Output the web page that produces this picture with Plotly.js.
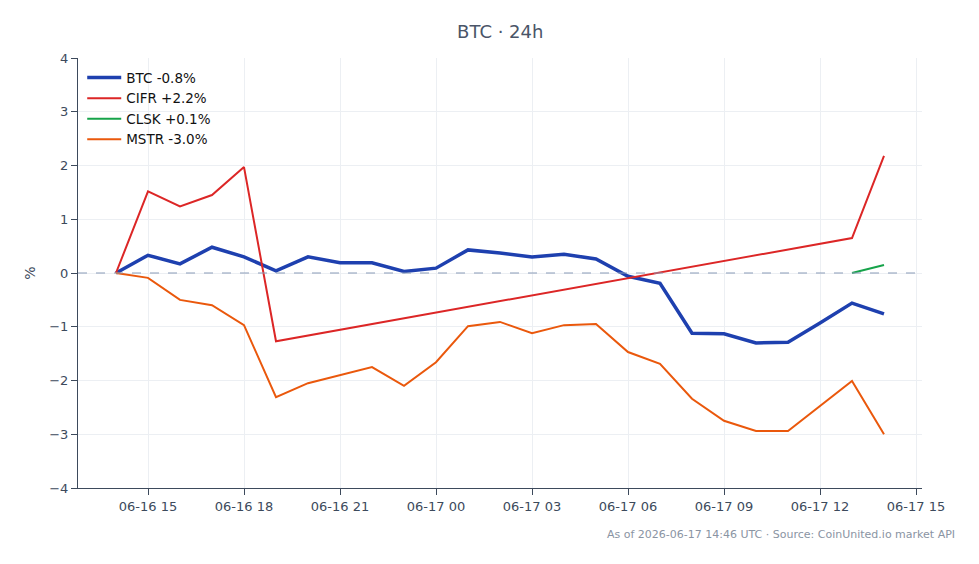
<!DOCTYPE html>
<html>
<head>
<meta charset="utf-8">
<script src="https://cdn.plot.ly/plotly-3.0.1.min.js"></script>
<style>html,body{margin:0;padding:0;background:#fff;}#chart{width:979px;height:564px;}</style>
</head>
<body>
<div id="chart"></div>
<script>
const times = [
  "2026-06-16 14:00","2026-06-16 15:00","2026-06-16 16:00","2026-06-16 17:00","2026-06-16 18:00",
  "2026-06-16 19:00","2026-06-16 20:00","2026-06-16 21:00","2026-06-16 22:00","2026-06-16 23:00",
  "2026-06-17 00:00","2026-06-17 01:00","2026-06-17 02:00","2026-06-17 03:00","2026-06-17 04:00",
  "2026-06-17 05:00","2026-06-17 06:00","2026-06-17 07:00","2026-06-17 08:00","2026-06-17 09:00",
  "2026-06-17 10:00","2026-06-17 11:00","2026-06-17 12:00","2026-06-17 13:00","2026-06-17 14:00"
];
const btc = [0, 0.33, 0.17, 0.48, 0.30, 0.04, 0.30, 0.19, 0.19, 0.03, 0.09, 0.43, 0.37, 0.30, 0.35, 0.26, -0.06, -0.19, -1.12, -1.13, -1.30, -1.29, -0.93, -0.56, -0.76];
const cifr = [0, 1.52, 1.24, 1.45, 1.97, -1.27, null, null, null, null, null, null, null, null, null, null, null, null, null, null, null, null, null, 0.65, 2.18];
const clsk = [null, null, null, null, null, null, null, null, null, null, null, null, null, null, null, null, null, null, null, null, null, null, null, 0, 0.15];
const mstr = [0, -0.09, -0.50, -0.60, -0.97, -2.31, -2.05, -1.90, -1.75, -2.10, -1.66, -0.99, -0.91, -1.12, -0.97, -0.95, -1.47, -1.69, -2.34, -2.75, -2.94, -2.94, -2.47, -2.01, -3.00];
const names = ["BTC -0.8%", "CIFR +2.2%", "CLSK +0.1%", "MSTR -3.0%"];
const colors = ["#1e40af", "#dc2626", "#16a34a", "#ea580c"];
const widths = [3.5, 2, 2, 2];
const series = [btc, cifr, clsk, mstr];

const traces = series.map((s, i) => ({
  x: times, y: s, type: "scatter", mode: "lines", name: names[i],
  line: {color: colors[i], width: widths[i]}, connectgaps: true
}));

const font = "DejaVu Sans, sans-serif";
const layout = {
  width: 979, height: 564,
  margin: {l: 78, r: 57, t: 58, b: 76},
  paper_bgcolor: "#fff", plot_bgcolor: "#fff",
  font: {family: font, size: 13, color: "#3d4a5c"},
  title: {text: "BTC · 24h", x: 0.511, xanchor: "center", yref: "container", y: 0.943, yanchor: "middle", font: {family: font, size: 18, color: "#4a5568"}},
  showlegend: true,
  legend: {x: 0.005, y: 0.99, xanchor: "left", yanchor: "top", bgcolor: "rgba(0,0,0,0)", itemwidth: 34, font: {family: font, size: 13.5, color: "#111"}},
  xaxis: {
    type: "date", range: ["2026-06-16 12:48:45", "2026-06-17 15:11:15"],
    tick0: "2026-06-16 00:00", dtick: 3 * 3600 * 1000, tickformat: "%m-%d %H",
    showgrid: true, gridcolor: "#eceff3", showline: true, linecolor: "#3d4a5c", linewidth: 1,
    ticks: "outside", ticklen: 6, tickcolor: "#3d4a5c", zeroline: false,
    tickfont: {family: font, size: 13, color: "#3d4a5c"}
  },
  yaxis: {
    range: [-4, 4], dtick: 1, showgrid: true, gridcolor: "#eceff3",
    showline: true, linecolor: "#3d4a5c", linewidth: 1,
    ticks: "outside", ticklen: 6, tickcolor: "#3d4a5c", zeroline: false,
    title: {text: "%", font: {family: font, size: 14, color: "#3d4a5c"}, standoff: 10},
    tickfont: {family: font, size: 13, color: "#3d4a5c"}
  },
  shapes: [{type: "line", xref: "paper", x0: 0, x1: 1, yref: "y", y0: 0, y1: 0,
    line: {color: "#8a9bb8", width: 1.2, dash: "dash"}}],
  annotations: [{text: "As of 2026-06-17 14:46 UTC · Source: CoinUnited.io market API",
    xref: "paper", yref: "paper", x: 1.042, y: -0.088, xanchor: "right", yanchor: "top",
    showarrow: false, font: {family: font, size: 11, color: "#8a94a3"}}]
};
Plotly.newPlot("chart", traces, layout, {displayModeBar: false, staticPlot: true});
</script>
</body>
</html>
